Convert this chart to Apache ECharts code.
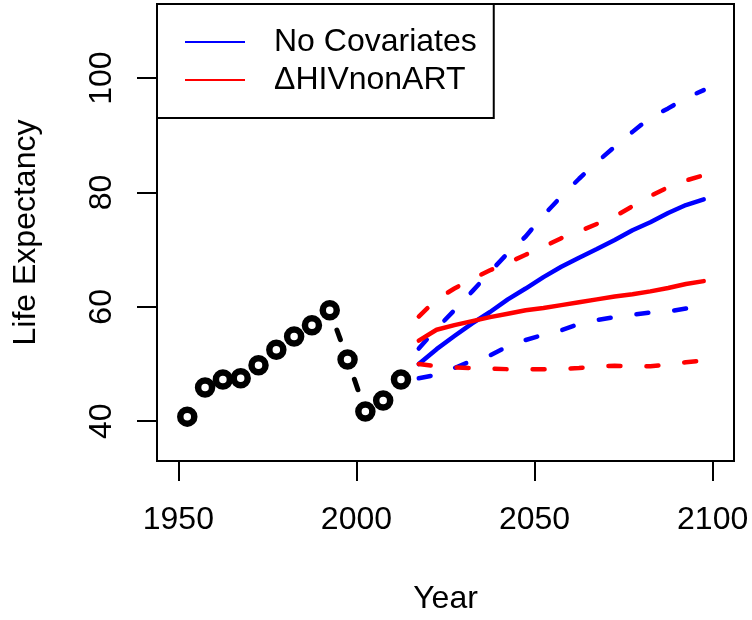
<!DOCTYPE html>
<html>
<head>
<meta charset="utf-8">
<script src="https://cdn.jsdelivr.net/npm/echarts@6/dist/echarts.min.js"></script>
<style>
html,body{margin:0;padding:0;background:#fff;}
#chart{width:752px;height:620px;}
</style>
</head>
<body>
<div id="chart"></div>
<script>
// ---- data ----
var histYears = [1952.5, 1957.5, 1962.5, 1967.5, 1972.5, 1977.5, 1982.5, 1987.5, 1992.5, 1997.5, 2002.5, 2007.5, 2012.5];
var histLE    = [40.8, 45.9, 47.3, 47.5, 49.8, 52.5, 54.8, 56.8, 59.4, 50.8, 41.7, 43.6, 47.3];

var projYears = [2017.5, 2022.5, 2027.5, 2032.5, 2037.5, 2042.5, 2047.5, 2052.5, 2057.5, 2062.5, 2067.5, 2072.5, 2077.5, 2082.5, 2087.5, 2092.5, 2097.5];
var noCovMedian = [50.0, 52.6, 54.9, 57.1, 59.1, 61.3, 63.2, 65.2, 67.0, 68.6, 70.1, 71.7, 73.4, 74.8, 76.4, 77.8, 78.8];
var noCovUpper  = [52.7, 56.2, 59.4, 62.7, 66.1, 69.4, 72.3, 76.0, 79.3, 82.4, 85.3, 88.0, 90.6, 93.1, 94.7, 96.5, 97.9];
var noCovLower  = [47.5, 48.1, 49.3, 50.6, 51.5, 53.1, 54.2, 55.1, 55.9, 57.0, 57.7, 58.2, 58.6, 59.0, 59.2, 59.7, 60.2];
var hivMedian   = [54.1, 56.0, 56.8, 57.5, 58.2, 58.8, 59.4, 59.8, 60.3, 60.8, 61.3, 61.8, 62.2, 62.7, 63.3, 64.0, 64.5];
var hivUpper    = [58.3, 61.3, 63.2, 64.9, 66.4, 67.7, 69.1, 70.5, 72.0, 73.2, 74.5, 75.8, 77.6, 79.4, 80.9, 82.1, 83.0];
var hivLower    = [50.0, 49.6, 49.4, 49.3, 49.2, 49.1, 49.1, 49.1, 49.1, 49.3, 49.6, 49.7, 49.6, 49.6, 49.9, 50.3, 50.6];

var xTicks = [1950, 2000, 2050, 2100];
var yTicks = [40, 60, 80, 100];
var legendNames = ['No Covariates', 'ΔHIVnonART'];

// ---- build ----
function pairs(xs, ys) { return xs.map(function (x, i) { return [x, ys[i]]; }); }
var histSegments = [];
for (var i = 0; i < histYears.length - 1; i++) {
  histSegments.push([histYears[i], histLE[i], histYears[i + 1], histLE[i + 1]]);
}

var FONT = "'Liberation Sans', Arial, Helvetica, sans-serif";
var BLUE = '#0000FF', RED = '#FF0000';

function lineSeries(name, data, color, dashed) {
  return {
    type: 'line', name: name, data: pairs(projYears, data),
    showSymbol: false, symbol: 'none', smooth: false,
    lineStyle: { color: color, width: 4.5, type: dashed ? [12, 26] : 'solid', cap: 'round', join: 'round' },
    itemStyle: { color: color },
    z: 3
  };
}

var chart = echarts.init(document.getElementById('chart'), null, { renderer: 'canvas' });
chart.setOption({
  animation: false,
  backgroundColor: '#fff',
  textStyle: { fontFamily: FONT },
  grid: { left: 157, top: 4, width: 577, height: 460, show: true, borderColor: '#000', borderWidth: 2, backgroundColor: 'transparent', containLabel: false },
  xAxis: {
    type: 'value', min: 1944, max: 2106,
    name: 'Year', nameLocation: 'middle', nameGap: 122,
    nameTextStyle: { fontSize: 32, color: '#000', fontFamily: FONT },
    axisLine: { show: false, onZero: false },
    axisTick: { show: true, customValues: xTicks, length: 20, inside: false, lineStyle: { color: '#000', width: 2 } },
    axisLabel: { customValues: xTicks, fontSize: 32, color: '#000', margin: 43, fontFamily: FONT,
                 formatter: function (v) { return String(v); } },
    splitLine: { show: false }
  },
  yAxis: {
    type: 'value', min: 33.04, max: 112.96,
    name: 'Life Expectancy', nameLocation: 'middle', nameGap: 115, nameRotate: 90,
    nameTextStyle: { fontSize: 32, color: '#000', fontFamily: FONT },
    axisLine: { show: false, onZero: false },
    axisTick: { show: true, customValues: yTicks, length: 20, inside: false, lineStyle: { color: '#000', width: 2 } },
    axisLabel: { customValues: yTicks, rotate: 90, fontSize: 32, color: '#000', margin: 39, fontFamily: FONT,
                 formatter: function (v) { return String(v); } },
    splitLine: { show: false }
  },
  legend: {
    data: legendNames,
    orient: 'vertical', left: 157, top: 4,
    padding: [20, 17, 20, 28],
    itemGap: 2, itemWidth: 60, itemHeight: 2, icon: 'rect',
    backgroundColor: '#fff', borderColor: '#000', borderWidth: 2, borderRadius: 0,
    textStyle: { fontSize: 32, color: '#000', lineHeight: 36, padding: [0, 0, 0, 24], fontFamily: FONT },
    selectedMode: false,
    z: 10
  },
  series: [
    {
      type: 'custom', name: 'history-line', data: histSegments,
      encode: { x: [0, 2], y: [1, 3] },
      silent: true, z: 2,
      renderItem: function (params, api) {
        var p1 = api.coord([api.value(0), api.value(1)]);
        var p2 = api.coord([api.value(2), api.value(3)]);
        var dx = p2[0] - p1[0], dy = p2[1] - p1[1];
        var len = Math.sqrt(dx * dx + dy * dy);
        var gap = 21;
        if (len <= 2 * gap) return null;
        var ux = dx / len, uy = dy / len;
        return {
          type: 'line',
          shape: { x1: p1[0] + ux * gap, y1: p1[1] + uy * gap, x2: p2[0] - ux * gap, y2: p2[1] - uy * gap },
          style: { stroke: '#000', lineWidth: 5, lineDash: [11, 30], lineCap: 'round' }
        };
      }
    },
    {
      type: 'scatter', name: 'history', data: pairs(histYears, histLE),
      symbol: 'circle', symbolSize: 14,
      itemStyle: { color: '#fff', borderColor: '#000', borderWidth: 6.5, opacity: 1 },
      z: 4, silent: true
    },
    lineSeries('No Covariates', noCovMedian, BLUE, false),
    lineSeries('No Covariates upper', noCovUpper, BLUE, true),
    lineSeries('No Covariates lower', noCovLower, BLUE, true),
    lineSeries('ΔHIVnonART', hivMedian, RED, false),
    lineSeries('ΔHIVnonART upper', hivUpper, RED, true),
    lineSeries('ΔHIVnonART lower', hivLower, RED, true)
  ]
});
</script>
</body>
</html>
